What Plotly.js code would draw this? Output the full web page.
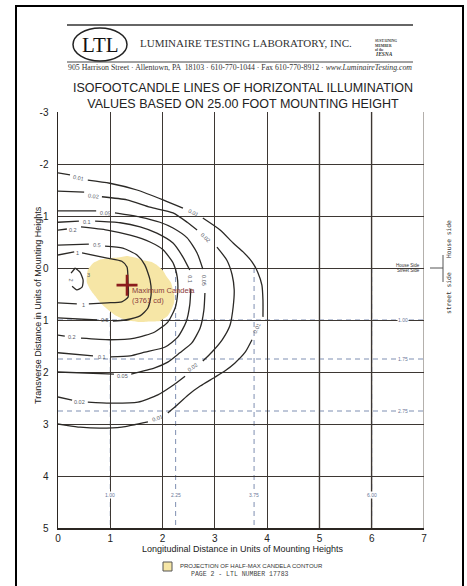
<!DOCTYPE html>
<html><head><meta charset="utf-8">
<script src="https://cdn.plot.ly/plotly-3.0.1.min.js"></script>
<style>html,body{margin:0;padding:0;background:#fff}#chart{width:467px;height:586px}</style>
</head><body><div id="chart"></div>
<script>
// ---- data (units of mounting heights) ----
const xTicks = [0,1,2,3,4,5,6,7];
const xTickText = ['0','1','2','3','4','5','6','7'];
const yTicks = [-3,-2,-1,0,1,2,3,4,5];
const yTickText = ['-3','-2','-1','0','1','2','3','4','5'];

const c001x = [0,0.23,null,0.57,0.99,1.51,2.01,2.39,null,2.77,3.10,3.35,3.54,3.71,3.82,3.90,3.92,3.92,null,3.71,3.58,3.38,3.19,3.00,2.72,2.49,2.24,2.10,null,1.72,1.22,0.80,0.42,0.13,0];
const c001y = [-1.83,-1.79,null,-1.69,-1.63,-1.50,-1.31,-1.15,null,-0.96,-0.73,-0.48,-0.31,-0.12,0.08,0.33,0.62,0.94,null,1.38,1.62,1.83,1.98,2.10,2.27,2.44,2.67,2.79,null,2.96,3.06,3.08,3.06,3.02,3.00];
const c002x = [0,0.50,null,0.84,1.32,1.76,2.20,2.47,2.66,null,3.04,3.23,3.33,3.37,3.35,3.29,3.14,2.94,2.77,null,2.43,2.18,1.91,1.53,0.99,0.57,null,0.27,0];
const c002y = [-1.48,-1.46,null,-1.37,-1.31,-1.17,-1.06,-0.88,-0.73,null,-0.40,-0.15,0.13,0.42,0.75,1.10,1.38,1.62,1.79,null,2.08,2.27,2.44,2.58,2.60,2.58,null,2.54,2.48];
const c005x = [0,0.73,null,1.09,1.57,1.95,2.20,2.47,2.66,2.77,null,2.81,2.79,2.72,2.56,2.33,2.10,1.85,1.40,null,1.07,0];
const c005y = [-1.10,-1.10,null,-1.06,-0.98,-0.88,-0.77,-0.58,-0.29,0.02,null,0.48,0.81,1.15,1.44,1.63,1.81,1.92,2.04,null,2.04,2.00];
const c01x = [0,0.40,null,0.71,1.19,1.57,1.89,2.20,2.39,2.52,null,2.54,2.52,2.45,2.29,2.05,1.66,1.38,1.00,null,0.67,0];
const c01y = [-0.88,-0.90,null,-0.90,-0.87,-0.79,-0.67,-0.48,-0.21,0.04,null,0.40,0.71,1.04,1.33,1.52,1.62,1.69,1.71,null,1.69,1.63];
const c02x = [0,0.17,null,0.44,0.94,1.38,1.76,2.01,2.20,2.28,2.29,2.24,2.10,1.85,1.47,0.99,0.44,null,0.13,0];
const c02y = [-0.73,-0.75,null,-0.79,-0.73,-0.63,-0.50,-0.35,-0.10,0.17,0.46,0.77,1.04,1.23,1.35,1.38,1.35,null,1.31,1.29];
const c05x = [0,0.59,null,0.90,1.24,1.51,1.66,1.76,1.78,1.72,1.57,1.28,1.05,null,0.75,0];
const c05y = [-0.44,-0.46,null,-0.42,-0.38,-0.25,-0.06,0.23,0.52,0.77,0.92,1.00,1.02,null,1.00,0.96];
const c1x = [0,0.31,null,0.46,0.94,1.22,1.32,1.34,1.34,1.22,0.94,0.59,null,0.36,0];
const c1y = [-0.25,-0.31,null,-0.29,-0.19,-0.13,-0.02,0.29,0.56,0.65,0.67,0.69,null,0.69,0.67];
const c2x = [0.33,0.25,null,0.27,0.36,0.46,0.48,0.42,0.33];
const c2y = [0,0.10,null,0.35,0.42,0.37,0.23,0.08,0];

const halfMaxX = [0.57,0.68,0.80,0.99,1.15,1.32,1.48,1.63,1.78,1.89,2.00,2.08,2.16,2.20,2.23,2.22,2.17,2.10,1.95,1.76,1.57,1.40,1.24,1.08,0.94,0.82,0.71,0.62,0.55,0.57];
const halfMaxY = [0.04,-0.10,-0.16,-0.19,-0.20,-0.23,-0.20,-0.15,-0.12,-0.06,0.04,0.17,0.28,0.42,0.55,0.67,0.80,0.92,1.02,1.03,1.04,1.02,0.98,0.90,0.79,0.68,0.54,0.42,0.27,0.04];

const maxCdX = [1.32];
const maxCdY = [0.33];
const maxCdText = 'Maximum Candela<br>(3761 cd)';

const labelText  = ['0.01','0.02','0.05','0.1','0.2','0.5','1','0.01','0.02','0.1','0.05','0.01','0.02','0.01','0.5','0.2','0.1','0.05','0.02','1','2','3'];
const labelX     = [0.40,0.67,0.90,0.55,0.29,0.75,0.38,2.60,2.83,2.52,2.79,3.80,2.58,1.91,0.90,0.27,0.84,1.24,0.42,0.48,0.24,0.59];
const labelY     = [-1.73,-1.38,-1.06,-0.88,-0.73,-0.44,-0.29,-1.06,-0.58,0.21,0.25,1.15,1.90,2.88,1.00,1.33,1.71,2.08,2.58,0.71,0.23,0.13];
const labelAngle = [12,8,4,0,0,3,0,25,45,90,90,-65,-35,-20,0,0,0,0,0,0,90,0];

const longLines = [1.00,2.25,3.75,6.00];   // vertical dashed classification lines
const transLines = [1.00,1.75,2.75];       // horizontal dashed classification lines
const grayGrid = [5,6,7];

// ---- geometry helpers (pixel -> paper) ----
const L=58,R=424,T=112,B=528;
const PX = v => (v-L)/(R-L);
const PY = v => (B-v)/(B-T);

const lineStyle = {color:'#2b2926', width:1.3, shape:'spline', smoothing:0.6};
const contours = [[c001x,c001y],[c002x,c002y],[c005x,c005y],[c01x,c01y],[c02x,c02y],[c05x,c05y],[c1x,c1y],[c2x,c2y]];

const traces = [{
  type:'scatter', mode:'lines', x:halfMaxX, y:halfMaxY, fill:'toself',
  fillcolor:'#f6e6a6', line:{width:0, color:'#f6e6a6', shape:'spline', smoothing:0.5},
  hoverinfo:'skip', showlegend:false
}];
contours.forEach(c => traces.push({type:'scatter', mode:'lines', x:c[0], y:c[1], connectgaps:false,
  line:lineStyle, hoverinfo:'skip', showlegend:false}));
traces.push({type:'scatter', mode:'markers', x:maxCdX, y:maxCdY,
  marker:{symbol:'cross-thin', size:15, line:{width:2.6, color:'#8b1c1c'}}, showlegend:false, hoverinfo:'skip'});

const ann = [];
const mid = {xanchor:'center', yanchor:'middle'};
labelText.forEach((t,i) => ann.push(Object.assign({x:labelX[i], y:labelY[i], xref:'x', yref:'y', text:t, showarrow:false,
  textangle:labelAngle[i], font:{family:'Liberation Sans', size:5.5, color:'#555a66'}}, mid)));
longLines.forEach(v => ann.push(Object.assign({x:v, y:4.37, xref:'x', yref:'y', text:v.toFixed(2), showarrow:false,
  bgcolor:'#ffffff', borderpad:0, font:{family:'Liberation Sans', size:5, color:'#6a7898'}}, mid)));
transLines.forEach(v => ann.push(Object.assign({x:6.6, y:v, xref:'x', yref:'y', text:v.toFixed(2), showarrow:false,
  bgcolor:'#ffffff', borderpad:0, font:{family:'Liberation Sans', size:5, color:'#6a7898'}}, mid)));
ann.push({x:maxCdX[0]+0.06, y:maxCdY[0]+0.2, xref:'x', yref:'y', text:maxCdText, showarrow:false, xanchor:'left', yanchor:'middle', align:'left',
  font:{family:'Liberation Sans', size:7.5, color:'#8a3b3b'}});
ann.push({x:6.96, y:-0.05, xref:'x', yref:'y', text:'House Side', showarrow:false, xanchor:'right', yanchor:'middle', font:{family:'Liberation Sans', size:4.5, color:'#333'}});
ann.push({x:6.96, y:0.05, xref:'x', yref:'y', text:'Street Side', showarrow:false, xanchor:'right', yanchor:'middle', font:{family:'Liberation Sans', size:4.5, color:'#333'}});

const paper = (px,py,text,font,extra) => Object.assign({x:PX(px), y:PY(py), xref:'paper', yref:'paper', text:text, showarrow:false, font:font, xanchor:'center', yanchor:'middle'}, extra||{});
ann.push(paper(100,45,'LTL',{family:'Liberation Serif', size:21, color:'#111'}));
ann.push(paper(246,43,'LUMINAIRE TESTING LABORATORY, INC.',{family:'Liberation Serif', size:11, color:'#333'}));
ann.push(paper(373,45,'<b>SUSTAINING<br>MEMBER<br>of the</b>',{family:'Liberation Serif', size:3.6, color:'#333'},{xanchor:'left', align:'left'}));
ann.push(paper(373,54,'<b><i>IESNA</i></b>',{family:'Liberation Serif', size:5.5, color:'#333'},{xanchor:'left'}));
ann.push(paper(240,67,'905 Harrison Street · Allentown, PA  18103 · 610-770-1044 · Fax 610-770-8912 · <i>www.LuminaireTesting.com</i>',{family:'Liberation Serif', size:7.8, color:'#333'}));
ann.push(paper(243,549,'Longitudinal Distance in Units of Mounting Heights',{family:'Liberation Sans', size:9, color:'#222'}));
ann.push(paper(38,305,'Transverse Distance in Units of Mounting Heights',{family:'Liberation Sans', size:9, color:'#222'},{textangle:-90}));
ann.push(paper(178,566,'PROJECTION OF HALF-MAX CANDELA CONTOUR',{family:'Liberation Sans', size:6, color:'#333'},{xanchor:'left'}));
ann.push(paper(240,574,'PAGE 2 - LTL NUMBER 17783',{family:'Liberation Mono', size:6.5, color:'#444'}));
ann.push(paper(448,239,'House side',{family:'DejaVu Sans Mono', size:6.3, color:'#333'},{textangle:-90}));
ann.push(paper(448,293,'street side',{family:'DejaVu Sans Mono', size:6.3, color:'#333'},{textangle:-90}));

const shapes = [];
grayGrid.forEach(v => shapes.push({type:'line', xref:'x', yref:'y', x0:v, x1:v, y0:-3, y1:5, layer:'below', line:{color:'#b4b0ac', width:2}}));
longLines.forEach(v => shapes.push({type:'line', xref:'x', yref:'y', x0:v, x1:v, y0:0, y1:5, layer:'below', line:{color:'#7f8fb2', width:1, dash:'5px,4px'}}));
transLines.forEach(v => shapes.push({type:'line', xref:'x', yref:'y', x0:0, x1:7, y0:v, y1:v, layer:'below', line:{color:'#7f8fb2', width:1, dash:'5px,4px'}}));
const pline = (x0,y0,x1,y1,color,width) => ({type:'line', xref:'paper', yref:'paper', x0:PX(x0), y0:PY(y0), x1:PX(x1), y1:PY(y1), line:{color:color, width:width}});
shapes.push({type:'rect', xref:'paper', yref:'paper', x0:PX(16), x1:PX(463), y0:PY(6), y1:PY(600), line:{color:'#000', width:2}});
shapes.push(pline(67,25,413,25,'#333',1.5));
shapes.push(pline(67,62,413,62,'#444',1));
shapes.push({type:'circle', xref:'paper', yref:'paper', x0:PX(73), x1:PX(127), y0:PY(28), y1:PY(61), line:{color:'#222', width:1.5}});
shapes.push({type:'rect', xref:'paper', yref:'paper', x0:PX(163), x1:PX(172), y0:PY(562), y1:PY(571), fillcolor:'#f6e6a6', line:{color:'#555', width:1}});
shapes.push(pline(430,268,443,268,'#555',1));
shapes.push(pline(443,255,443,282,'#555',1));

const layout = {
  width:467, height:586, margin:{l:L, r:467-R, t:T, b:586-B}, paper_bgcolor:'#fff', plot_bgcolor:'#fff',
  title:{text:'ISOFOOTCANDLE LINES OF HORIZONTAL ILLUMINATION<br>VALUES BASED ON 25.00 FOOT MOUNTING HEIGHT',
    font:{family:'Liberation Sans', size:12.5, color:'#222'}, x:243/467, xanchor:'center', y:1-92/586, yanchor:'middle'},
  xaxis:{range:[0,7], tickvals:xTicks, ticktext:xTickText, showgrid:true, gridcolor:'#3d3733', gridwidth:1, zeroline:false,
    showline:true, linecolor:'#2b2622', linewidth:1.5, ticks:'', tickfont:{family:'Liberation Sans', size:10, color:'#222'}},
  yaxis:{range:[5,-3], tickvals:yTicks, ticktext:yTickText, showgrid:true, gridcolor:'#3d3733', gridwidth:1, zeroline:false,
    showline:true, linecolor:'#2b2622', linewidth:1.5, ticks:'', ticklabelstandoff:6, tickfont:{family:'Liberation Sans', size:10, color:'#222'}},
  annotations:ann, shapes:shapes, showlegend:false
};
Plotly.newPlot('chart', traces, layout, {staticPlot:true, displayModeBar:false});
</script></body></html>
